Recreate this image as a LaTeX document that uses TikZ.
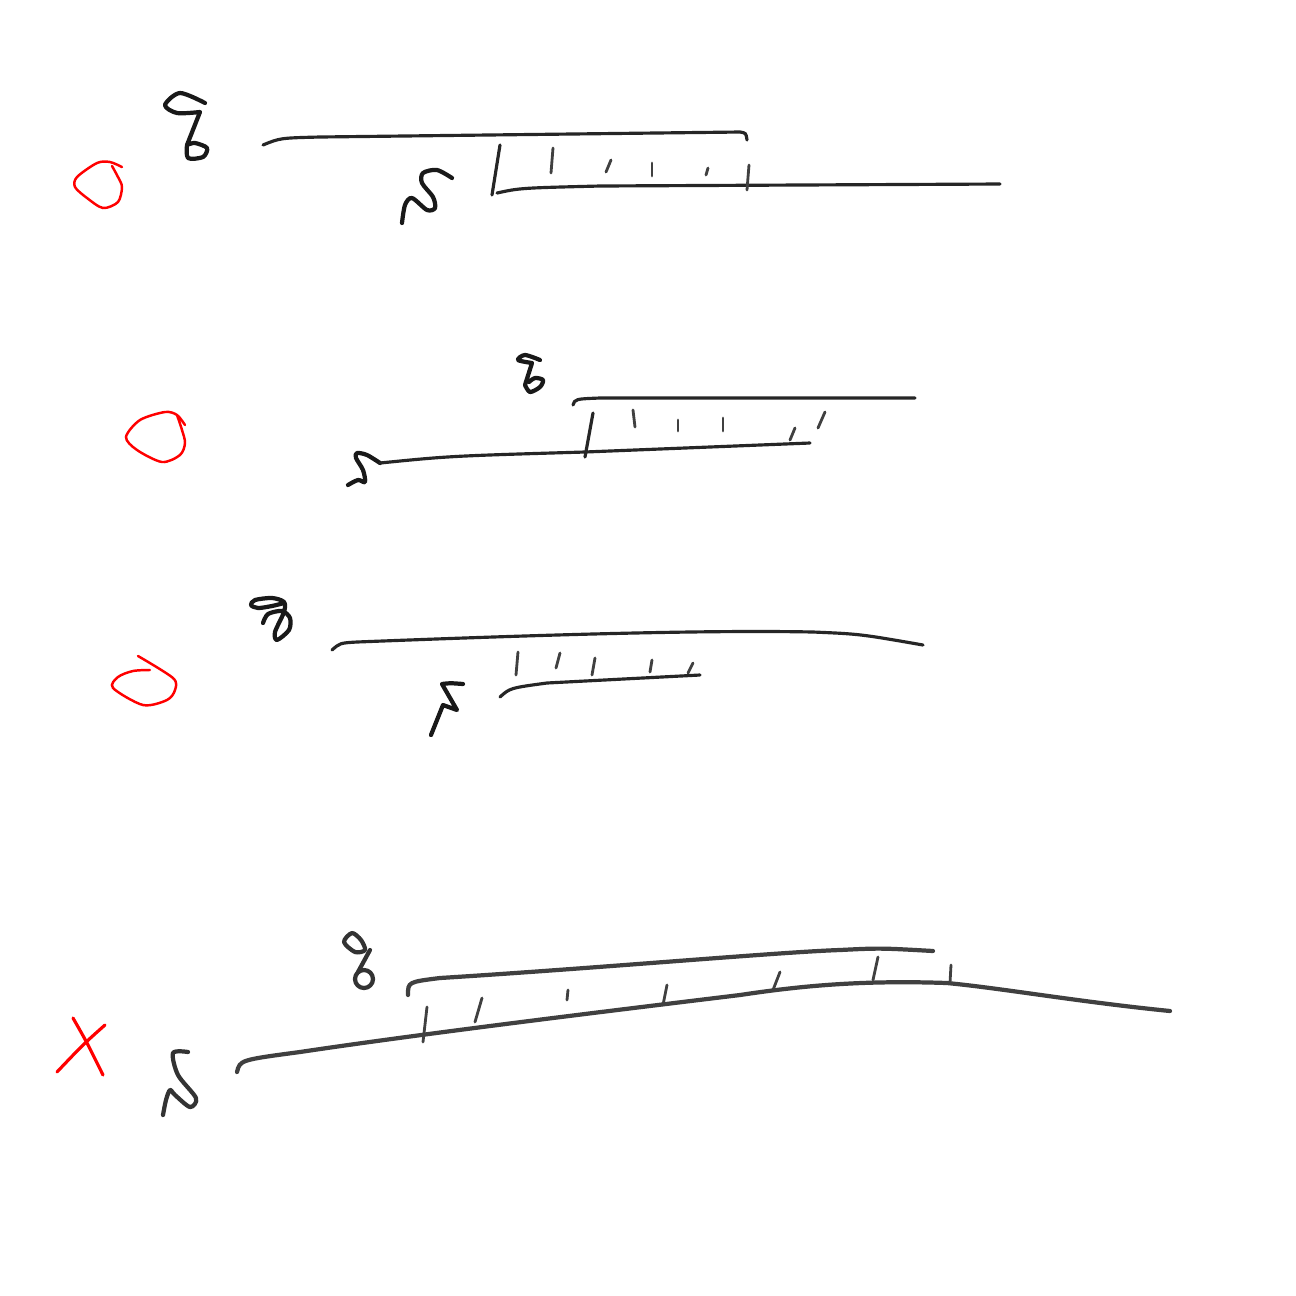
\documentclass[tikz,border=0pt]{standalone}
\usepackage{tikz}

\begin{document}
\begin{tikzpicture}[
  x=0.01cm, y=-0.01cm,
  strand/.style={line width=0.9pt, line cap=round, black!85},
  heavy/.style={line width=1.2pt, line cap=round, black!75},
  tick/.style={line width=0.8pt, line cap=round, black!75},
  glyph/.style={line width=1.2pt, line cap=round, line join=round, black!90},
  okmark/.style={red, line width=0.7pt, line cap=round},
  badmark/.style={red, line width=0.9pt, line cap=round}
]
\fill[white] (0,0) rectangle (1296,1296);
\useasboundingbox (0,0) rectangle (1296,1296);

\draw[okmark] plot[smooth] coordinates {(122,167) (110,162) (97,163) (77,177) (75,187) (87,198) (103,208) (118,202) (122,187) (118,177) (112,166)};
\draw[glyph] plot[smooth] coordinates {(205,103) (180,93) (165,105) (177,113) (200,112)} -- (187,145) plot[smooth] coordinates {(187,145) (188,158) (203,157) (207,148) (195,143) (187,145)};
\draw[glyph] plot[smooth] coordinates {(452,178) (437,170) (423,173) (422,183) (433,197) (435,208) (427,210) (412,198) (405,205) (402,223)};
\draw[strand] (263,145) .. controls (280,138) .. (320,137) -- (740,132) .. controls (746,133) .. (747,140);
\draw[strand] (500,145) -- (492,195);
\draw[strand] (497,193) .. controls (520,188) .. (600,186) -- (1000,184);
\foreach \xa/\ya/\xb/\yb in {553/148/551/173, 611/160/606/172, 652/163/652/176, 708/168/706/175, 749/165/747/190}
  \draw[tick] (\xa,\ya) -- (\xb,\yb);

\draw[okmark] plot[smooth] coordinates {(185,425) (177,415) (165,412) (140,420) (126,437) (137,450) (162,462) (180,455) (185,443) (182,430) (177,415)};
\draw[glyph] plot[smooth] coordinates {(540,360) (525,355) (518,360) (532,363)} -- (525,385) plot[smooth] coordinates {(525,385) (530,392) (540,387) (543,380) (535,378) (529,382)};
\draw[glyph] plot[smooth] coordinates {(348,485) (358,480) (365,482) (363,470) (356,458) (357,453) (367,455) (380,463)};
\draw[strand] (380,463) .. controls (450,456) .. (585,452) -- (810,443);
\draw[strand] (573,405) .. controls (575,399) .. (600,398) -- (915,398);
\draw[strand] (593,413) -- (585,457);
\foreach \xa/\ya/\xb/\yb in {633/410/635/427, 678/420/678/431, 723/418/723/431, 795/428/790/440, 825/412/818/428}
  \draw[tick] (\xa,\ya) -- (\xb,\yb);

\draw[okmark] plot[smooth] coordinates {(138,656) (173,678) (175,690) (167,700) (143,705) (113,688) (118,677) (133,671) (150,670)};
\draw[glyph] plot[smooth] coordinates {(263,623) (268,614) (282,611) (290,618) (289,630) (277,640) (275,632) (284,612) (284,602) (272,598) (255,600) (251,605) (258,608) (272,606) (284,603)};
\draw[glyph] (431,735) -- (443,705) -- (457,710) -- (442,684) .. controls (450,683) .. (463,684);
\draw[strand] (332,650) .. controls (340,643) .. (357,642) .. controls (560,634) and (713,630) .. (813,632) .. controls (860,634) .. (923,645);
\draw[strand] (500,697) .. controls (510,688) .. (547,683) -- (700,675);
\foreach \xa/\ya/\xb/\yb in {518/652/516/675, 560/653/556/668, 595/658/592/675, 652/660/650/672, 693/663/688/673}
  \draw[tick] (\xa,\ya) -- (\xb,\yb);

\draw[badmark] plot[smooth] coordinates {(73,1018) (87,1043) (103,1075)};
\draw[badmark] plot[smooth] coordinates {(105,1025) (83,1045) (57,1072)};
\draw[glyph, black!80] plot[smooth] coordinates {(188,1052) (173,1053) (178,1075) (196,1098) (190,1107) (175,1095) (170,1090) (166,1100) (163,1115)};
\draw[glyph, black!80] plot[smooth cycle] coordinates {(352,933) (344,942) (355,952) (365,950) (361,940)};
\draw[glyph, black!80] (370,950) -- (358,972);
\draw[glyph, black!80] (364,979) circle[radius=9];
\draw[heavy] (408,995) .. controls (408,982) .. (440,978) .. controls (600,968) and (780,952) .. (840,950) .. controls (880,948) .. (933,951);
\draw[heavy] (237,1072) .. controls (240,1060) .. (300,1052) .. controls (420,1034) and (600,1012) .. (740,995) .. controls (800,986) and (860,980) .. (947,983) .. controls (1000,988) and (1080,1002) .. (1170,1011);
\foreach \xa/\ya/\xb/\yb in {427/1007/423/1042, 482/998/475/1022, 568/990/567/1000, 667/985/663/1005, 780/972/773/990, 878/957/873/980, 951/965/950/983}
  \draw[tick] (\xa,\ya) -- (\xb,\yb);
\end{tikzpicture}
\end{document}
